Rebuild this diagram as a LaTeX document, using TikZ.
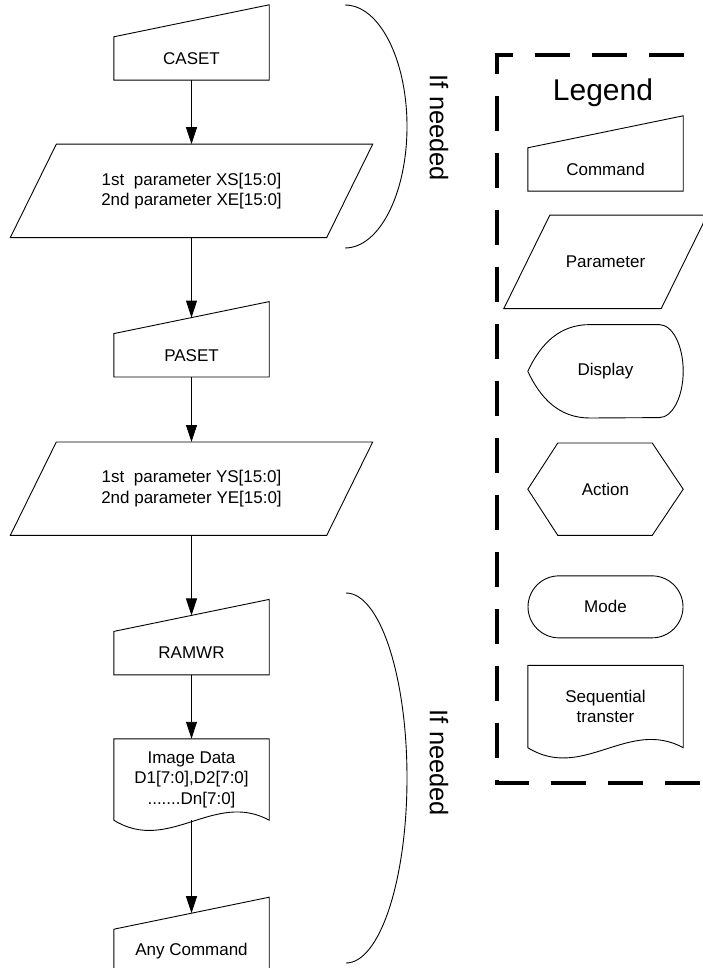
\documentclass[tikz,border=0pt]{standalone}
\usepackage{fontspec}
\setmainfont{Liberation Sans}
\usetikzlibrary{positioning,arrows.meta}
\tikzset{
  outline/.style={draw=black,line width=0.9pt,line join=miter},
  box-base/.style={inner sep=0pt,align=center,font=\fontsize{17}{20.5}\selectfont},
  cmd-box/.style={box-base,minimum width=155pt,minimum height=43pt,
    append after command={\pgfextra{\draw[outline]
      (\tikzlastnode.south west) -- (\tikzlastnode.south east)
      -- ([yshift=32pt]\tikzlastnode.north east)
      -- (\tikzlastnode.north west) -- cycle;}}},
  param-box/.style={box-base,minimum width=#1,minimum height=93pt,
    append after command={\pgfextra{\draw[outline]
      ([xshift=-23pt]\tikzlastnode.south west) -- ([xshift=-23pt]\tikzlastnode.south east)
      -- ([xshift=23pt]\tikzlastnode.north east)
      -- ([xshift=23pt]\tikzlastnode.north west) -- cycle;}}},
  param-box/.default=316pt,
  doc-box/.style={box-base,minimum width=155pt,minimum height=#1,
    append after command={\pgfextra{\draw[outline]
      (\tikzlastnode.south west) -- (\tikzlastnode.north west)
      -- (\tikzlastnode.north east) -- (\tikzlastnode.south east)
      .. controls ([xshift=-55pt,yshift=30pt]\tikzlastnode.south east)
      and ([xshift=55pt,yshift=-34pt]\tikzlastnode.south west) .. (\tikzlastnode.south west)
      -- cycle;}}},
  disp-box/.style={box-base,minimum width=155pt,minimum height=93pt,
    append after command={\pgfextra{\draw[outline]
      ([xshift=62pt]\tikzlastnode.north west) -- ([xshift=-24pt]\tikzlastnode.north east)
      arc[start angle=90,end angle=-90,x radius=24,y radius=46.5]
      -- ([xshift=62pt]\tikzlastnode.south west)
      to[out=180,in=-65] (\tikzlastnode.west)
      to[out=65,in=180] ([xshift=62pt]\tikzlastnode.north west) -- cycle;}}},
  hex-box/.style={box-base,minimum width=155pt,minimum height=92pt,
    append after command={\pgfextra{\draw[outline]
      (\tikzlastnode.west) -- ([xshift=30pt]\tikzlastnode.north west)
      -- ([xshift=-31pt]\tikzlastnode.north east) -- (\tikzlastnode.east)
      -- ([xshift=-31pt]\tikzlastnode.south east)
      -- ([xshift=30pt]\tikzlastnode.south west) -- cycle;}}},
  mode-box/.style={box-base,draw=black,line width=0.9pt,rounded corners=31pt,
    minimum width=155pt,minimum height=62pt},
  arrow/.style={-{Triangle[length=17pt,width=11pt]},line width=0.9pt},
  bracket/.style={line width=0.9pt},
  need-label/.style={rotate=-90,inner sep=0pt,font=\fontsize{25.5}{30}\selectfont},
  legend-frame/.style={line width=3.5pt,dash pattern=on 35pt off 22pt,dash phase=21pt},
}
\begin{document}
\begin{tikzpicture}[x=1pt,y=1pt]
  \useasboundingbox (0,0) rectangle (702,-968);
  % main flow
  \node[cmd-box] (caset) at (191.5,-58.5) {CASET};
  \node[param-box,below=64pt of caset] (xrange) {1st\ \ parameter XS[15:0]\\2nd parameter XE[15:0]};
  \node[cmd-box,below=96pt of xrange] (paset) {PASET};
  \node[param-box,below=65pt of paset] (yrange) {1st\ \ parameter YS[15:0]\\2nd parameter YE[15:0]};
  \node[cmd-box,below=96pt of yrange] (ramwr) {RAMWR};
  \node[doc-box=81pt,below=64pt of ramwr] (imgdata) {Image Data\\D1[7:0],D2[7:0]\\.......Dn[7:0]};
  \node[cmd-box,below=109pt of imgdata] (anycmd) {Any Command};
  \draw[arrow] (caset) -- (xrange);
  \draw[arrow] (xrange) -- ([yshift=16pt]paset.north);
  \draw[arrow] (paset) -- (yrange);
  \draw[arrow] (yrange) -- ([yshift=16pt]ramwr.north);
  \draw[arrow] (ramwr) -- (imgdata);
  \draw[arrow] (imgdata) -- ([yshift=16pt]anycmd.north);
  % optional steps
  \coordinate (need-top) at (345,-5);
  \coordinate (need-mid) at (346,-593);
  \draw[bracket] (need-top) arc[start angle=90,end angle=-90,x radius=62,y radius=121.5];
  \draw[bracket] (need-mid) arc[start angle=90,end angle=-90,x radius=61,y radius=185];
  \node[need-label] (need-a) at (439,-128) {If needed};
  \node[need-label] (need-b) at (439,-763) {If needed};
  % legend
  \draw[legend-frame] (720,-55) -- (497,-55) -- (497,-783) -- (720,-783);
  \node[font=\fontsize{30}{36}\selectfont] (legend) at (603,-93) {Legend};
  \node[cmd-box] (lg-cmd) at (605.5,-169.5) {Command};
  \node[param-box=157pt,below=24pt of lg-cmd] (lg-param) {Parameter};
  \node[disp-box,below=16pt of lg-param] (lg-disp) {Display};
  \node[hex-box,below=25pt of lg-disp] (lg-action) {Action};
  \node[mode-box,below=40pt of lg-action] (lg-mode) {Mode};
  \node[doc-box=82pt,below=27pt of lg-mode] (lg-seq) {Sequential\\transter};
\end{tikzpicture}
\end{document}
